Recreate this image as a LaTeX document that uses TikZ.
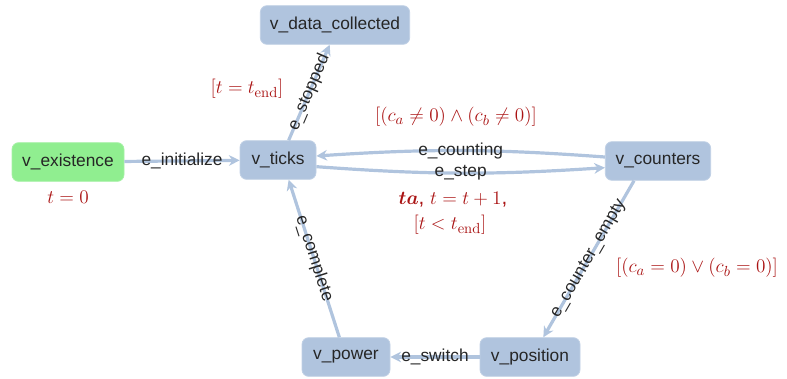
\documentclass[tikz,border=0pt]{standalone}
\usepackage{amsmath,amssymb}
\usepackage[no-math]{fontspec}
\setmainfont{Liberation Sans}
\usetikzlibrary{arrows.meta}
\definecolor{boxblue}{HTML}{B0C4DE}
\definecolor{boxgreen}{HTML}{90EE90}
\definecolor{mred}{RGB}{170,20,20}
\begin{document}
\begin{tikzpicture}[x=0.75pt,y=-0.75pt,
  state/.style={draw=boxblue!80!white, line width=0.6pt, fill=boxblue, rounded corners=5pt,
    minimum height=29pt, inner sep=0pt, font=\fontsize{13}{15}\selectfont, text=black!85},
  edge/.style={draw=boxblue, line width=2.4pt, -{Stealth[length=8pt,width=8pt]}},
  elab/.style={font=\fontsize{13}{15}\selectfont, text=black!85, inner sep=1pt},
  guard/.style={text=mred, font=\fontsize{15.5}{19}\selectfont, inner sep=1pt, align=center}]
\useasboundingbox (0,0) rectangle (787,378);
\node[state, minimum width=112pt] (dc) at (335,25) {v\_data\_collected};
\node[state, minimum width=84pt, fill=boxgreen, draw=boxgreen!80!white] (ex) at (68,162) {v\_existence};
\node[state, minimum width=57pt] (ti) at (278,160) {v\_ticks};
\node[state, minimum width=79pt] (co) at (658,161) {v\_counters};
\node[state, minimum width=66pt] (pw) at (346,357) {v\_power};
\node[state, minimum width=75pt] (po) at (530,357) {v\_position};

\draw[edge] (ex) -- node[elab] {e\_initialize} (ti);
\draw[edge] ([xshift=8pt]ti.north) -- node[elab, sloped] {e\_stopped} ([xshift=-4pt]dc.south);
\draw[edge] ([yshift=3pt]co.west) to[bend right=4] node[elab] {e\_counting} ([yshift=3pt]ti.east);
\draw[edge] ([yshift=-5pt]ti.east) to[bend right=4] node[elab] {e\_step} ([yshift=-5pt]co.west);
\draw[edge] ([xshift=-18pt]co.south) -- node[elab, sloped] {e\_counter\_empty} ([xshift=10pt]po.north);
\draw[edge] (po) -- node[elab] {e\_switch} (pw);
\draw[edge] ([xshift=-5pt]pw.north) -- node[elab, sloped] {e\_complete} ([xshift=8pt]ti.south);

\node[guard] (g0) at (68,197) {$t=0$};
\node[guard] (g1) at (247,89) {$[t=t_{\mathrm{end}}]$};
\node[guard] (g2) at (456,117) {$[(c_a\neq 0)\wedge(c_b\neq 0)]$};
\node[guard] (g3) at (453,200) {$\boldsymbol{ta}$, $t=t+1$,};
\node[guard] (g4) at (450,225) {$[t<t_{\mathrm{end}}]$};
\node[guard] (g5) at (697,268) {$[(c_a=0)\vee(c_b=0)]$};
\end{tikzpicture}
\end{document}
